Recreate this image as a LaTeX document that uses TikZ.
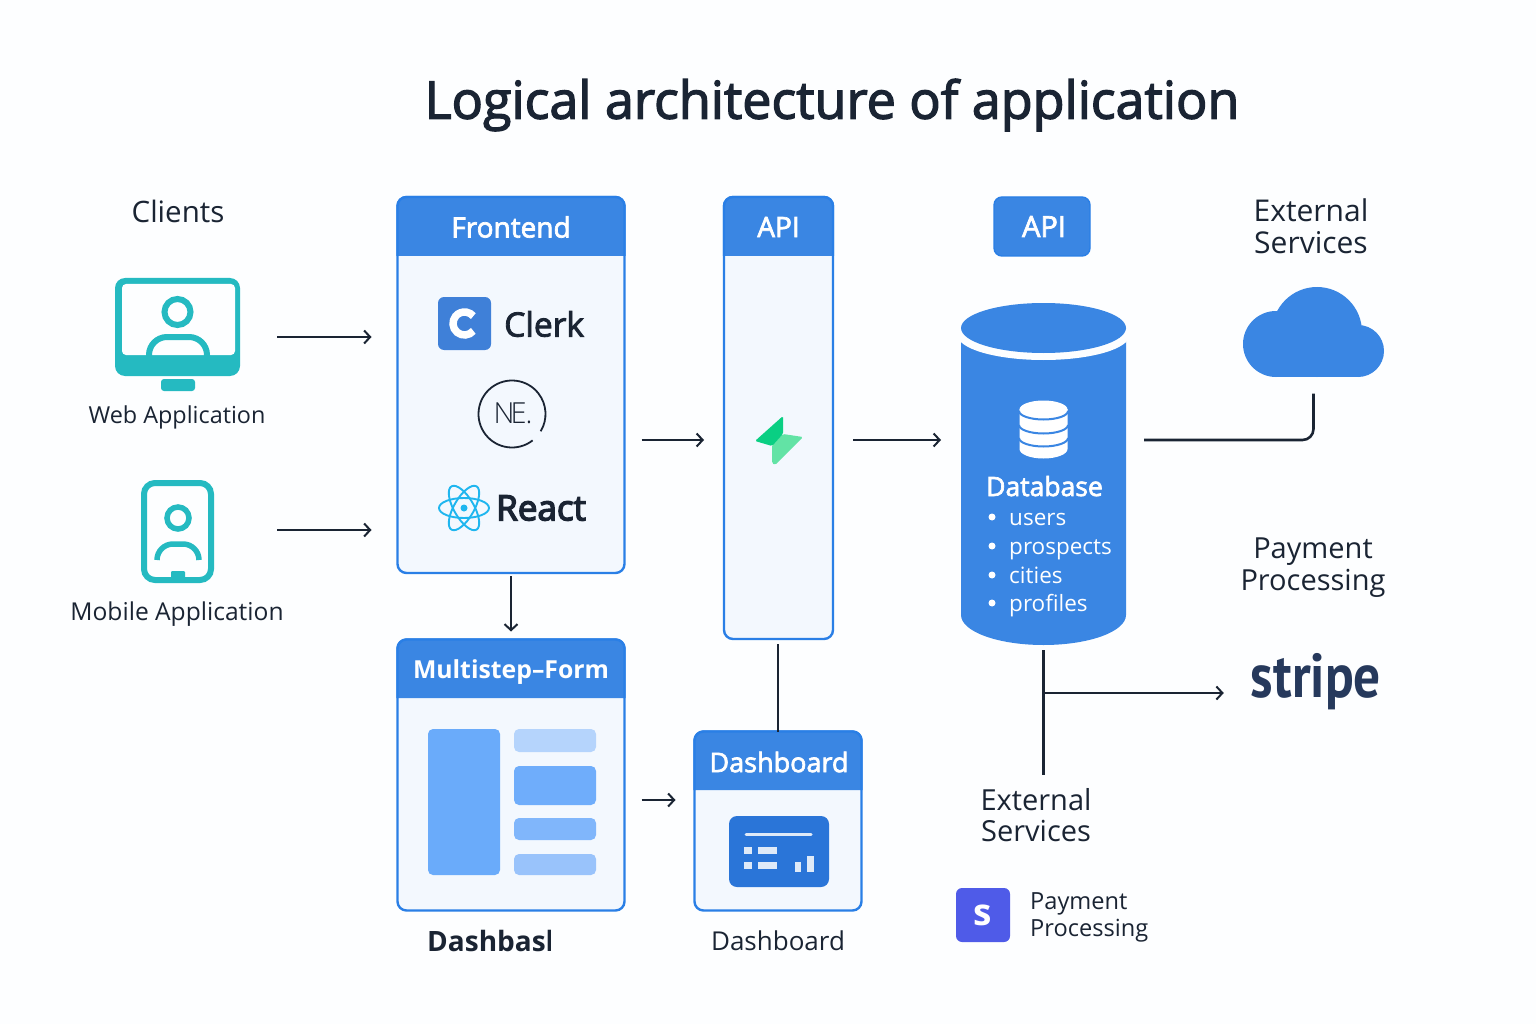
\documentclass[tikz,border=0pt]{standalone}
\usepackage{fontspec}
\usetikzlibrary{arrows.meta}
\setmainfont{Open Sans}
\newfontfamily\medf[FakeBold=2.5]{Open Sans}
\newfontfamily\semif[FakeBold=4]{Open Sans}
\newfontfamily\lightf{Open Sans Light}
\newfontfamily\stripef[FakeStretch=0.86]{PT Sans Bold}
\newcommand{\fs}[1]{\fontsize{#1}{1.1\dimexpr #1pt\relax}\selectfont}
\definecolor{bgc}{HTML}{FDFEFF}
\definecolor{ink}{HTML}{1A2433}
\definecolor{hd}{HTML}{3A86E3}
\definecolor{edgeb}{HTML}{2A7FE6}
\definecolor{panel}{HTML}{F3F8FE}
\definecolor{teal}{HTML}{25BAC1}
\definecolor{stripec}{HTML}{26395C}
\definecolor{clerkc}{HTML}{3F80D8}
\definecolor{reactc}{HTML}{1FB6EF}
\definecolor{fa}{HTML}{6AABFA}
\definecolor{fb}{HTML}{B5D4FC}
\definecolor{fc}{HTML}{6FADFB}
\definecolor{fd}{HTML}{80B6FB}
\definecolor{fe}{HTML}{99C3FB}
\definecolor{bolta}{HTML}{0ACF83}
\definecolor{boltb}{HTML}{62E3A5}
\definecolor{dk}{HTML}{2A75D8}
\definecolor{dl}{HTML}{DFEAF8}
\definecolor{sblue}{HTML}{4F5BE8}
\tikzset{
  card/.style={draw=edgeb,line width=2.4pt,fill=panel,rounded corners=9pt,inner sep=0,outer sep=0},
  hdtext/.style={text=white,inner sep=0},
  label/.style={text=ink,inner sep=0,align=center},
  conn/.style={draw=ink,line width=2.2pt,-{Straight Barb[length=6pt,width=13pt,line width=2pt]}},
  plain/.style={draw=ink,line width=2.6pt},
  ghost/.style={inner sep=0,outer sep=0},
}
\newcommand{\cardhead}[2]{\fill[hd] (#1.west |- 0,#2) {[rounded corners=9pt] -- (#1.north west) -- (#1.north east)} -- (#1.east |- 0,#2) -- cycle;
 \draw[edgeb,line width=2.4pt,rounded corners=9pt] (#1.west |- 0,#2) -- (#1.north west) -- (#1.north east) -- (#1.east |- 0,#2);}
\begin{document}
\begin{tikzpicture}[x=1pt,y=-1pt]
\useasboundingbox (0,0) rectangle (1536,1024);
\fill[bgc] (0,0) rectangle (1536,1024);
\coordinate (y337) at (0,337);
\coordinate (y530) at (0,530);
\coordinate (y440) at (0,440);
\coordinate (y800) at (0,800);
\coordinate (x778) at (778,0);

\node[label] (title) at (832,105) {\medf\fs{52}Logical architecture of application};
\node[label] (clients) at (178,211) {\fs{29.5}Clients};

% web icon
\node[ghost,minimum width=125pt,minimum height=113pt] (webicon) at (177.5,334.5) {};
\fill[teal,rounded corners=10pt] (115,278) rectangle (240,376);
\fill[bgc,rounded corners=4pt] (122,284) rectangle (235,355);
\fill[teal,rounded corners=3pt] (161,379) rectangle (195,391);
\draw[teal,line width=6pt] (177.5,312) circle[radius=13];
\draw[teal,line width=6pt,rounded corners=18pt] (149,356) -- (149,337) -- (207,337) -- (207,356);
\node[label] (weblabel) at (177,417) {\fs{23.4}Web Application};

% mobile icon
\node[ghost,minimum width=73pt,minimum height=103pt] (mobicon) at (177.5,531.5) {};
\draw[teal,line width=6pt,rounded corners=11pt,fill=bgc] (144,483) rectangle (211,580);
\draw[teal,line width=5.5pt] (178,518) circle[radius=11];
\draw[teal,line width=5.5pt,rounded corners=16pt] (157,560) -- (157,544) -- (199,544) -- (199,560);
\fill[teal,rounded corners=1pt] (171,571) rectangle (185,581);
\node[label] (moblabel) at (177,614) {\fs{24.6}Mobile Application};

% frontend
\node[card,minimum width=227pt,minimum height=376pt] (frontend) at (511,385) {};
\cardhead{frontend}{256}
\node[hdtext] (frontendt) at (511,227) {\medf\fs{28}Frontend};
\fill[clerkc,rounded corners=6pt] (438,297) rectangle (491,350);
\draw[white,line width=7.5pt] (464.5,323.5) ++(40:11.5) arc[start angle=40,end angle=320,radius=11.5];
\node[label,anchor=west] (clerk) at (504,324) {\medf\fs{33.6}Clerk};
\draw[ink,line width=1.8pt] (512,414) ++(52:33.5) arc[start angle=52,end angle=391,radius=33.5];
\node[label] (nextt) at (513,413) {\lightf\fs{29}N\kern-4pt E\kern-1pt .};
\foreach \r in {0,60,120}
  \draw[reactc,line width=1.9pt] (464,508) ellipse[x radius=25,y radius=10,rotate=\r];
\fill[reactc] (464,508) circle[radius=3.5];
\node[label,anchor=west] (react) at (496,508) {\semif\fs{35}React};

% multistep
\node[card,minimum width=227pt,minimum height=271pt] (multistep) at (511,775) {};
\cardhead{multistep}{698}
\node[hdtext] (multit) at (511,672.5) {\bfseries\fs{24.8}Multistep–Form};
\fill[fa,rounded corners=5pt] (428,729) rectangle (500,875);
\fill[fb,rounded corners=5pt] (514,729) rectangle (596,752);
\fill[fc,rounded corners=5pt] (514,766) rectangle (596,805);
\fill[fd,rounded corners=5pt] (514,818) rectangle (596,840);
\fill[fe,rounded corners=5pt] (514,854) rectangle (596,875);

% API column
\node[card,minimum width=109pt,minimum height=442pt] (api) at (778.5,418) {};
\cardhead{api}{256}
\node[hdtext] (apit) at (778.5,227) {\medf\fs{28}API};
\fill[boltb,rounded corners=1.5pt] (772,445) -- (783,434) -- (803,437) -- (775,465) -- (772,463) -- cycle;
\fill[bolta,rounded corners=1.5pt] (783,416) -- (755,441) -- (772,446) -- (783,434) -- cycle;

% dashboard
\node[card,minimum width=167pt,minimum height=179pt] (dash) at (778,821) {};
\cardhead{dash}{790}
\node[hdtext] (dasht) at (779,762) {\medf\fs{27}Dashboard};
\fill[dk,rounded corners=8pt] (729,816) rectangle (829,887);
\draw[dl,line width=3pt,line cap=round] (746,834) -- (811,834);
\fill[dl] (744,847) rectangle (752,854);
\fill[dl] (744,862) rectangle (752,869);
\fill[dl] (758,847) rectangle (777,854);
\fill[dl] (758,862) rectangle (777,869);
\fill[dl] (795,862) rectangle (801,872);
\fill[dl] (807,856) rectangle (814,872);

\node[label,anchor=west] (dashbasl) at (427,941) {\bfseries\fs{28}Dashbasl};
\fill[bgc] (551,925) rectangle (585,960);
\node[label] (dashlab) at (778,941) {\fs{26}Dashboard};

% second API
\node[draw=edgeb,line width=1.4pt,fill=hd,rounded corners=8pt,minimum width=96pt,minimum height=59pt,text=white,inner sep=0,outer sep=0] (api2) at (1042,226.5) {\kern4pt\medf\fs{29}API};

% database
\node[ghost,minimum width=165pt,minimum height=342pt] (db) at (1043.5,474) {};
\fill[hd] (961,328) -- (961,615) arc[start angle=180,end angle=0,x radius=82.5,y radius=30] -- (1126,328) -- cycle;
\fill[bgc] (1043.5,335) ellipse[x radius=86,y radius=25];
\fill[hd] (1043.5,328) ellipse[x radius=82.5,y radius=25];
% database glyph
\fill[white] (1019.5,409) -- (1019.5,449) arc[start angle=180,end angle=0,x radius=24,y radius=9.5] -- (1067.5,409) -- cycle;
\fill[white] (1043.5,409.5) ellipse[x radius=24,y radius=9];
\draw[hd,line width=2pt] (1019,411) arc[start angle=180,end angle=0,x radius=24.5,y radius=8.5];
\draw[hd,line width=2pt] (1019,425) arc[start angle=180,end angle=0,x radius=24.5,y radius=8.5];
\draw[hd,line width=2pt] (1019,438) arc[start angle=180,end angle=0,x radius=24.5,y radius=8.5];
\node[hdtext,anchor=base west] (dbt) at (986,496) {\medf\fs{26.5}Database};
\foreach \yy/\tt/\nm in {525/users/a,554/prospects/b,583/cities/c,611/profiles/d}{
  \fill[white] (992,\yy-8) circle[radius=3.5];
  \node[hdtext,anchor=base west] (db\nm) at (1009,\yy) {\fs{22.5}\tt};
}

% external services right
\node[label,anchor=base,font=\fontsize{30}{32}\selectfont] (ext1) at (1311,254) {External\\Services};
\node[ghost,minimum width=141pt,minimum height=91pt] (cloud) at (1313.5,332) {};
\fill[hd] (1276,344) circle[radius=33];
\fill[hd] (1317,332) circle[radius=45];
\fill[hd] (1358,351) circle[radius=26];
\fill[hd] (1276,350) rectangle (1358,377);
\node[label,anchor=base,font=\fontsize{29}{32}\selectfont] (pay1) at (1313,590) {Payment\\Processing};
\node[text=stripec,inner sep=0] (stripe) at (1316,682) {\stripef\fs{62}stripe};

% external bottom
\node[label,anchor=base,font=\fontsize{29}{31}\selectfont] (ext2) at (1036,841) {External\\Services};
\node[fill=sblue,inner sep=0,outer sep=0,minimum size=54pt,rounded corners=6pt,text=white] (sicon) at (983,915) {\bfseries\fs{37}s};
\node[label,anchor=base west,align=left,font=\fontsize{23.6}{27}\selectfont] (pay2) at (1030,936) {Payment\\Processing};

% connectors
\draw[conn,shorten <=37pt,shorten >=26pt] (webicon.east |- y337) -- (frontend.west |- y337);
\draw[conn,shorten <=63pt,shorten >=26pt] (mobicon.east |- y530) -- (frontend.west |- y530);
\draw[conn,shorten <=3pt,shorten >=8pt] (frontend.south) -- (multistep.north);
\draw[conn,shorten <=17pt,shorten >=20pt] (frontend.east |- y440) -- (api.west |- y440);
\draw[conn,shorten <=20pt,shorten >=20pt] (api.east |- y440) -- (db.west |- y440);
\draw[conn,shorten <=17pt,shorten >=19pt] (multistep.east |- y800) -- (dash.west |- y800);
\draw[plain,shorten <=5pt] (api.south -| x778) -- (dash.north -| x778);
\draw[plain,rounded corners=11pt,shorten <=18pt,shorten >=16pt] (db.east |- y440) -| (cloud.south);
\draw[plain,shorten <=5pt] (db.south) -- (db.south |- 0,775);
\coordinate (branch) at (db.south |- 0,693);
\draw[conn,shorten >=27pt] (branch) -- (branch -| stripe.west);
\end{tikzpicture}
\end{document}
